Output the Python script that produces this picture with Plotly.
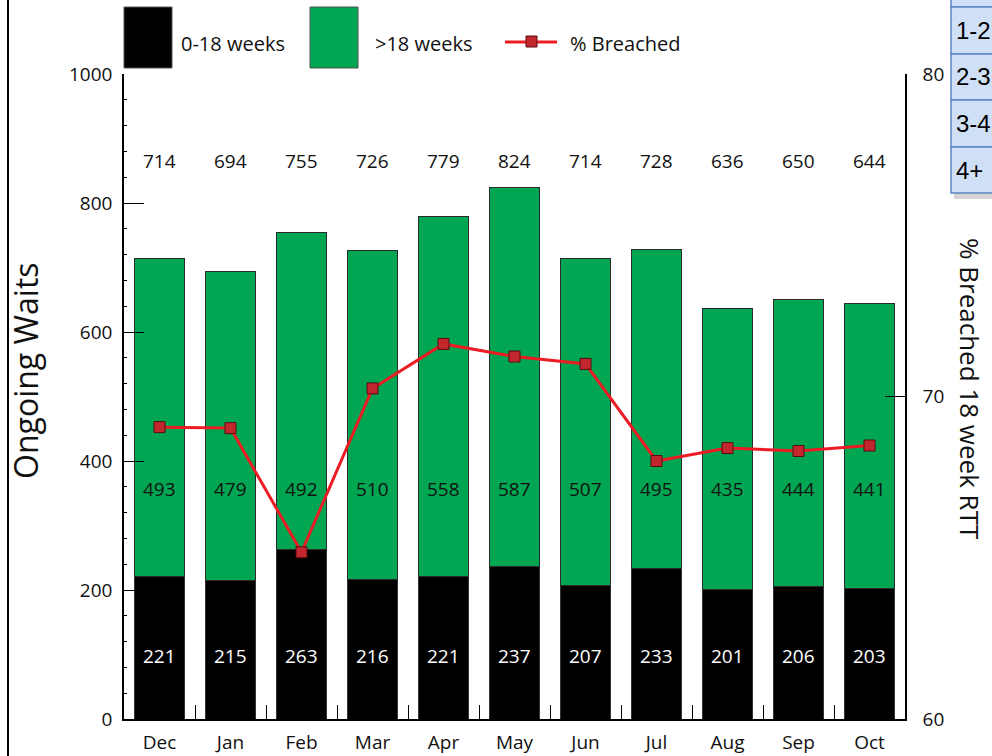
import plotly.graph_objects as go

# Monthly ongoing waits, split by wait length
months = ["Dec", "Jan", "Feb", "Mar", "Apr", "May", "Jun", "Jul", "Aug", "Sep", "Oct"]
under_18 = [221, 215, 263, 216, 221, 237, 207, 233, 201, 206, 203]
over_18 = [493, 479, 492, 510, 558, 587, 507, 495, 435, 444, 441]
totals = [714, 694, 755, 726, 779, 824, 714, 728, 636, 650, 644]
pct_breached = [69.05, 69.02, 65.17, 70.25, 71.63, 71.24, 71.01, 68.0, 68.40, 68.31, 68.48]
table_rows = ["1-2", "2-3", "3-4", "4+"]

GREEN = "#00a651"
RED = "#ed1c24"
FONT = "Open Sans"
INK = "#111111"

# Plot-area geometry in pixels (used for the decorations outside the axes)
W, H = 992, 756
L, R, T, B = 124, 905, 74, 719


def px(x):
    return (x - L) / (R - L)


def py(y):
    return (B - y) / (B - T)


fig = go.Figure()

fig.add_trace(go.Bar(
    x=months, y=under_18, name="0-18 weeks",
    marker=dict(color="black", line=dict(color="#333333", width=1)),
))
fig.add_trace(go.Bar(
    x=months, y=over_18, name=">18 weeks",
    marker=dict(color=GREEN, line=dict(color="#2b2b2b", width=1)),
))
fig.add_trace(go.Scatter(
    x=months, y=pct_breached, name="% Breached", yaxis="y2",
    mode="lines+markers",
    line=dict(color=RED, width=3),
    marker=dict(symbol="square", size=11, color="#c1272d",
                line=dict(color="#5a0a0e", width=1)),
))

annotations = []
# Value labels: totals across the top, segment values inside the bars
for m, t, o, u in zip(months, totals, over_18, under_18):
    annotations.append(dict(x=m, y=865, xref="x", yref="y", text=str(t),
                            showarrow=False, font=dict(size=19, color=INK, family=FONT)))
    annotations.append(dict(x=m, y=357, xref="x", yref="y", text=str(o),
                            showarrow=False, font=dict(size=19, color=INK, family=FONT)))
    annotations.append(dict(x=m, y=98, xref="x", yref="y", text=str(u),
                            showarrow=False, font=dict(size=19, color="white", family=FONT)))


def paper_text(x, y, text, size, **kw):
    d = dict(x=px(x), y=py(y), xref="paper", yref="paper", text=text,
             showarrow=False, yanchor="middle",
             font=dict(size=size, color=kw.pop("color", INK), family=kw.pop("family", FONT)))
    d.update(kw)
    annotations.append(d)


# Axis titles
paper_text(26, 371, "Ongoing Waits", 32, textangle=-90, xanchor="center")
paper_text(970, 389, "% Breached 18 week RTT", 26, textangle=90, xanchor="center")

# Legend texts
paper_text(179, 44, "0-18 weeks", 20, xanchor="left")
paper_text(373, 44, ">18 weeks", 20, xanchor="left")
paper_text(568, 44, "% Breached", 20, xanchor="left")

shapes = []
# Frame line on the left edge
shapes.append(dict(type="line", xref="paper", yref="paper",
                   x0=px(8), x1=px(8), y0=py(0), y1=py(H),
                   line=dict(color="black", width=2)))

# Legend swatches
shapes.append(dict(type="rect", xref="paper", yref="paper",
                   x0=px(124), x1=px(172), y0=py(68), y1=py(7),
                   fillcolor="black", line=dict(color="#555555", width=1)))
shapes.append(dict(type="rect", xref="paper", yref="paper",
                   x0=px(310), x1=px(358), y0=py(68), y1=py(7),
                   fillcolor=GREEN, line=dict(color="#555555", width=1)))
shapes.append(dict(type="line", xref="paper", yref="paper",
                   x0=px(505), x1=px(557), y0=py(42), y1=py(42),
                   line=dict(color=RED, width=3)))
shapes.append(dict(type="rect", xref="paper", yref="paper",
                   x0=px(526), x1=px(537), y0=py(47), y1=py(36),
                   fillcolor="#c1272d", line=dict(color="#5a0a0e", width=1)))

# Small table in the top-right corner
row_edges = [-40, 7, 54, 100, 147, 193]
shapes.append(dict(type="rect", xref="paper", yref="paper",
                   x0=px(954), x1=px(W + 10), y0=py(199), y1=py(190),
                   fillcolor="#d4d4d4", line=dict(width=0)))
for i in range(len(row_edges) - 1):
    shapes.append(dict(type="rect", xref="paper", yref="paper",
                       x0=px(951), x1=px(W + 10), y0=py(row_edges[i + 1]), y1=py(row_edges[i]),
                       fillcolor="#cfdff5", line=dict(color="#5b87c5", width=1.5)))
for i, label in enumerate(table_rows):
    ymid = (row_edges[i + 1] + row_edges[i + 2]) / 2
    paper_text(954, ymid, label, 24, xanchor="left", color="black", family="Liberation Sans")

fig.update_layout(
    width=W, height=H,
    margin=dict(l=L, r=W - R, t=T, b=H - B, autoexpand=False),
    paper_bgcolor="white", plot_bgcolor="white",
    barmode="stack", bargap=0.3,
    showlegend=False,
    font=dict(family=FONT, color=INK),
    xaxis=dict(
        range=[-0.5, len(months) - 0.5], automargin=False,
        showline=True, linecolor="black", linewidth=1.5,
        ticks="inside", tickson="boundaries", ticklen=14, tickcolor="black",
        showgrid=False, tickfont=dict(size=19), ticklabelstandoff=5,
    ),
    yaxis=dict(
        range=[0, 1000], dtick=200, automargin=False,
        showline=True, linecolor="black", linewidth=1.5,
        ticks="inside", ticklen=20, tickcolor="black",
        minor=dict(dtick=40, ticks="inside", ticklen=3, tickcolor="black"),
        showgrid=False, zeroline=False, tickfont=dict(size=19), ticklabelstandoff=6,
    ),
    yaxis2=dict(
        range=[60, 80], dtick=10, overlaying="y", side="right", automargin=False,
        showline=True, linecolor="black", linewidth=1.5,
        ticks="inside", ticklen=20, tickcolor="black",
        showgrid=False, zeroline=False, tickfont=dict(size=19), ticklabelstandoff=12,
    ),
    shapes=shapes,
    annotations=annotations,
)

fig.write_html("out.html")
